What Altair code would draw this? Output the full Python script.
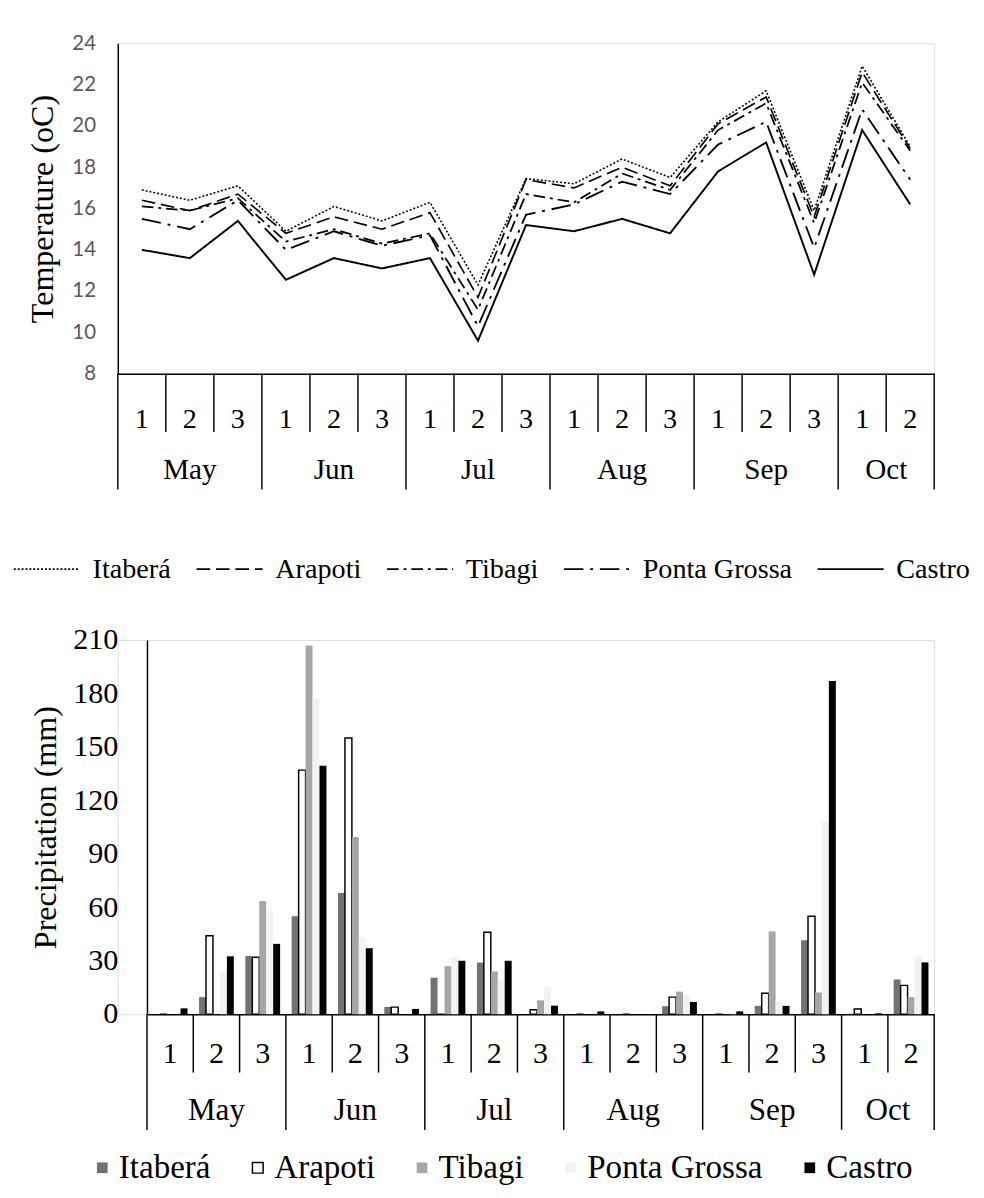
import altair as alt
import pandas as pd

SERIF = "Liberation Serif"
SANS = "Lato"

# ---------------- data ----------------
months = ["May", "Jun", "Jul", "Aug", "Sep", "Oct"]
dekads_in_month = [3, 3, 3, 3, 3, 2]
stations = ["Itaberá", "Arapoti", "Tibagi", "Ponta Grossa", "Castro"]

# mean temperature (oC) per dekad, May-1 ... Oct-2
temp_itabera = [16.9, 16.4, 17.1, 14.9, 16.1, 15.4, 16.3, 12.3, 17.45, 17.2, 18.4, 17.5, 20.2, 21.7, 15.9, 22.9, 19.0]
temp_arapoti = [16.4, 15.9, 16.7, 14.8, 15.6, 15.0, 15.8, 11.7, 17.4, 17.0, 18.0, 17.1, 20.1, 21.4, 15.6, 22.6, 18.9]
temp_tibagi = [16.1, 15.9, 16.5, 14.4, 15.0, 14.3, 14.8, 11.1, 16.7, 16.3, 17.7, 16.9, 19.8, 21.1, 15.3, 22.1, 18.8]
temp_pgrossa = [15.5, 15.0, 16.4, 14.0, 14.9, 14.2, 14.7, 10.3, 15.7, 16.2, 17.3, 16.7, 19.1, 20.2, 14.1, 20.8, 17.4]
temp_castro = [14.0, 13.6, 15.4, 12.55, 13.6, 13.1, 13.6, 9.6, 15.2, 14.9, 15.5, 14.8, 17.8, 19.2, 12.8, 19.8, 16.2]

# precipitation (mm) per dekad, May-1 ... Oct-2
prec_itabera = [0, 9.6, 32.7, 55, 68, 4, 20.5, 29, 0, 0, 0, 4.5, 0, 4.7, 41.5, 0.3, 19.5]
prec_arapoti = [0, 44, 32, 137, 155, 4, 0, 46, 2.5, 0, 0, 9.6, 0, 11.8, 55, 2.9, 16.2]
prec_tibagi = [0, 0, 63.5, 207, 99.5, 0, 27, 24, 7.8, 0, 0, 12.7, 0, 46.5, 12.2, 0, 9.6]
prec_pgrossa = [0, 24, 58, 177, 43, 0, 32, 19, 15.5, 0, 0, 11, 0.9, 7.1, 108, 0, 33]
prec_castro = [3.3, 32.5, 39.5, 139.5, 37, 3, 30, 30, 4.8, 1.6, 0, 6.9, 1.6, 4.7, 187, 0.5, 29.1]

temp_series = [temp_itabera, temp_arapoti, temp_tibagi, temp_pgrossa, temp_castro]
prec_series = [prec_itabera, prec_arapoti, prec_tibagi, prec_pgrossa, prec_castro]

line_dashes = [[2, 2], [14, 6], [12, 5, 3, 5], [20, 7, 3, 7], [1, 0]]
line_widths = [1.6, 2, 2, 4.5, 2]
bar_fills = ["#767171", "#ffffff", "#a6a6a6", "#f2f2f2", "#000000"]
bar_strokes = ["transparent", "#000000", "transparent", "transparent", "transparent"]

# ---------------- tables ----------------
period_keys, period_dekad, period_first = [], [], []
month_center3, month_center2 = [], []
for m, n in zip(months, dekads_in_month):
    for d in range(1, n + 1):
        period_keys.append(f"{m}|{d}")
        period_dekad.append(d)
        period_first.append(d == 1)
    if n == 3:
        month_center3.append({"period": f"{m}|2", "month": m})
    else:
        month_center2.append({"period": f"{m}|1", "month": m})

temp_df = pd.DataFrame([
    {"period": period_keys[i], "station": s, "temp": vals[i]}
    for s, vals in zip(stations, temp_series) for i in range(len(period_keys))
])
prec_df = pd.DataFrame([
    {"period": period_keys[i], "station": s, "prec": vals[i]}
    for s, vals in zip(stations, prec_series) for i in range(len(period_keys))
])
sep_df = pd.DataFrame({"period": period_keys, "first": period_first})
end_df = pd.DataFrame({"period": [period_keys[-1]]})
m3_df = pd.DataFrame(month_center3)
m2_df = pd.DataFrame(month_center2)


def x_axis(font_size, pad):
    return alt.Axis(title=None, labelExpr="split(datum.value, '|')[1]", ticks=False, tickSize=0,
                    domain=True, domainColor="black", domainWidth=1.5, labelFont=SERIF,
                    labelFontSize=font_size, labelColor="black", labelPadding=pad,
                    labelBaseline="middle", labelAngle=0, labelOverlap=False, grid=False)


def category_rows(xscale, axis, height, month_font, month_off):
    rule_kw = dict(color="black", strokeWidth=1.5)
    dek = alt.Chart(sep_df).transform_filter("!datum.first").mark_rule(**rule_kw).encode(
        x=alt.X("period:N", scale=xscale, axis=axis, bandPosition=0),
        y=alt.value(height), y2=alt.value(height + 60))
    mon = alt.Chart(sep_df).transform_filter("datum.first").mark_rule(**rule_kw).encode(
        x=alt.X("period:N", scale=xscale, axis=axis, bandPosition=0),
        y=alt.value(height), y2=alt.value(height + 119))
    end = alt.Chart(end_df).mark_rule(**rule_kw).encode(
        x=alt.X("period:N", scale=xscale, axis=axis, bandPosition=1),
        y=alt.value(height), y2=alt.value(height + 119))
    t_kw = dict(font=SERIF, fontSize=month_font, color="black", baseline="middle", align="center")
    t3 = alt.Chart(m3_df).mark_text(**t_kw).encode(
        x=alt.X("period:N", scale=xscale, axis=axis, bandPosition=0.5),
        y=alt.value(height + month_off), text="month:N")
    t2 = alt.Chart(m2_df).mark_text(**t_kw).encode(
        x=alt.X("period:N", scale=xscale, axis=axis, bandPosition=1),
        y=alt.value(height + month_off), text="month:N")
    return [dek, mon, end, t3, t2]


# ---------------- top: temperature ----------------
W1, H1 = 840, 340
xs1 = alt.Scale(type="band", domain=period_keys, paddingInner=0, paddingOuter=0)
ax1 = x_axis(29, 46)
top_legend = alt.Legend(
    title=None, orient="none", legendX=-108, legendY=506, direction="horizontal",
    labelFont=SERIF, labelFontSize=29, labelColor="black", labelOffset=12, labelLimit=300,
    columnPadding=22, symbolType="stroke", symbolSize=68 * 68, symbolStrokeColor="black",
    symbolStrokeWidth=1.8,
)
lines = alt.Chart(temp_df).mark_line(color="black", strokeCap="butt").encode(
    x=alt.X("period:N", scale=xs1, axis=ax1, sort=period_keys),
    y=alt.Y("temp:Q", scale=alt.Scale(domain=[8, 24]),
            axis=alt.Axis(title="Temperature (oC)", values=list(range(8, 25, 2)), ticks=False,
                          tickSize=0, grid=False, domainColor="black", domainWidth=1.5,
                          labelFont=SANS, labelFontSize=21, labelColor="#595959", labelPadding=23,
                          titleFont=SERIF, titleFontSize=33, titleFontWeight="normal",
                          titleColor="black", titlePadding=13)),
    strokeDash=alt.StrokeDash("station:N", scale=alt.Scale(domain=stations, range=line_dashes),
                              legend=top_legend),
    strokeWidth=alt.StrokeWidth("station:N", scale=alt.Scale(domain=stations, range=line_widths),
                                legend=None),
)
top = alt.layer(*category_rows(xs1, ax1, H1, 30, 99), lines).properties(width=W1, height=H1)

# ---------------- bottom: precipitation ----------------
W2, H2 = 810, 385
xs2 = alt.Scale(type="band", domain=period_keys, paddingInner=0, paddingOuter=0)
ax2 = x_axis(31, 41)
bot_legend = alt.Legend(title=None, orient="none", legendX=-63, legendY=526, direction="horizontal",
                        labelFont=SERIF, labelFontSize=34, labelColor="black", labelOffset=0,
                        labelLimit=300, columnPadding=31, symbolType="square", symbolSize=121,
                        symbolStrokeWidth=1.5)
bars = alt.Chart(prec_df).mark_bar(strokeWidth=1.5).encode(
    x=alt.X("period:N", scale=xs2, axis=ax2, sort=period_keys),
    xOffset=alt.XOffset("station:N", scale=alt.Scale(domain=stations, paddingOuter=0.83, paddingInner=0)),
    y=alt.Y("prec:Q", scale=alt.Scale(domain=[0, 210]),
            axis=alt.Axis(title="Precipitation (mm)", values=list(range(0, 211, 30)), ticks=False,
                          tickSize=0, grid=False, domainColor="black", domainWidth=1.5,
                          labelFont=SERIF, labelFontSize=31, labelColor="black", labelPadding=30,
                          titleFont=SERIF, titleFontSize=33, titleFontWeight="normal",
                          titleColor="black", titlePadding=11)),
    fill=alt.Fill("station:N", scale=alt.Scale(domain=stations, range=bar_fills), legend=bot_legend),
    stroke=alt.Stroke("station:N", scale=alt.Scale(domain=stations, range=bar_strokes), legend=bot_legend),
)
bottom = alt.layer(bars, *category_rows(xs2, ax2, H2, 32, 99)).properties(width=W2, height=H2)

spacer = alt.Chart(pd.DataFrame({"v": [0]})).mark_point(opacity=0).encode(
    x=alt.value(0), y=alt.value(0)).properties(width=30, height=H2)

indep_scales = dict(strokeDash="independent", strokeWidth="independent",
                    fill="independent", stroke="independent")
indep_legends = dict(strokeDash="independent", strokeWidth="independent",
                     fill="independent", stroke="independent")

bottom_row = alt.hconcat(spacer, bottom, spacing=0, bounds="flush").resolve_scale(
    **indep_scales).resolve_legend(**indep_legends)

chart = alt.vconcat(top, bottom_row, spacing=274, bounds="flush").resolve_scale(
    **indep_scales).resolve_legend(**indep_legends).properties(
    padding={"left": 4, "top": 7, "right": 5, "bottom": 5}
).configure_view(strokeWidth=0, stroke="transparent").configure(background="white")

chart.save("out.html", embed_options={"renderer": "svg", "actions": False})
